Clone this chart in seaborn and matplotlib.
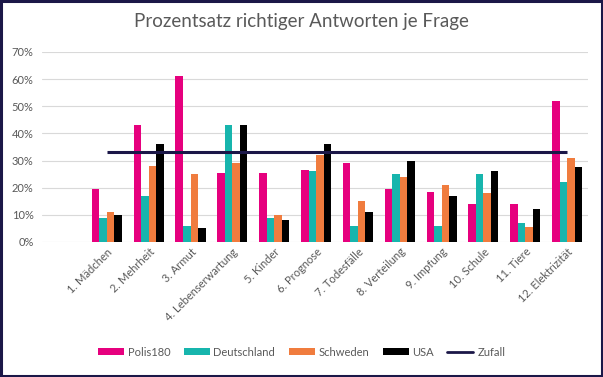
import matplotlib
matplotlib.use("Agg")
import matplotlib.pyplot as plt
import seaborn as sns
import pandas as pd
from matplotlib.patches import Rectangle, Patch
from matplotlib.lines import Line2D
from matplotlib.ticker import FuncFormatter

categories = ["1. Mädchen", "2. Mehrheit", "3. Armut", "4. Lebenserwartung", "5. Kinder",
              "6. Prognose", "7. Todesfälle", "8. Verteilung", "9. Impfung", "10. Schule",
              "11. Tiere", "12. Elektrizität"]
polis180 = [19.5, 43, 61, 25.5, 25.5, 26.5, 29, 19.5, 18.5, 14, 14, 52]
deutschland = [9, 17, 6, 43, 9, 26, 6, 25, 6, 25, 7, 22]
schweden = [11, 28, 25, 29, 10, 32, 15, 24, 21, 18, 5.5, 31]
usa = [10, 36, 5, 43, 8, 36, 11, 30, 17, 26, 12, 27.5]
zufall = [33.3, 33.3, 33.3, 33.3, 33.3, 33.3, 33.3, 33.3, 33.3, 33.3, 33.3, 33.3]
series_names = ["Polis180", "Deutschland", "Schweden", "USA"]
yticks = [0, 10, 20, 30, 40, 50, 60, 70]

colors = ["#E6007E", "#17B5AD", "#F07C3E", "#000000"]
line_color = "#1B1748"
text_color = "#595959"

rows = []
for name, vals in zip(series_names, [polis180, deutschland, schweden, usa]):
    for c, v in zip(categories, vals):
        rows.append({"Frage": c, "Serie": name, "Wert": v})
df = pd.DataFrame(rows)

sns.set_theme(style="white")
plt.rcParams["font.family"] = ["Lato", "DejaVu Sans"]

fig = plt.figure(figsize=(6.03, 3.77), dpi=100)
ax = fig.add_axes([42 / 603, 1 - 242 / 377, (588 - 42) / 603, (242 - 52) / 377])

sns.barplot(data=df, x="Frage", y="Wert", hue="Serie", order=categories,
            hue_order=series_names, palette=colors, width=0.72, saturation=1,
            ax=ax, legend=False)
for p in ax.patches:
    p.set_edgecolor("none")
ax.plot(range(len(categories)), zufall, color=line_color, lw=2.2, solid_capstyle="butt")

ax.set_xlim(-1.55, 11.5)
ax.set_ylim(0, 70)
ax.set_yticks(yticks)
ax.yaxis.set_major_formatter(FuncFormatter(lambda v, p: f"{int(v)}%"))
ax.grid(axis="y", color="#D9D9D9", lw=0.8)
ax.set_axisbelow(True)
for s in ax.spines.values():
    s.set_visible(False)
ax.set_xlabel("")
ax.set_ylabel("")
ax.tick_params(axis="y", labelsize=8, labelcolor=text_color, length=0, pad=6)
ax.tick_params(axis="x", labelsize=8, labelcolor=text_color, length=0, pad=3)
for lab in ax.get_xticklabels():
    lab.set_rotation(45)
    lab.set_ha("right")
    lab.set_rotation_mode("anchor")

fig.text(0.5, 1 - 22 / 377, "Prozentsatz richtiger Antworten je Frage", ha="center", va="center",
         fontsize=13.5, color=text_color)

handles = [Patch(facecolor=c, edgecolor="none") for c in colors]
handles.append(Line2D([0], [0], color=line_color, lw=2))
labels = series_names + ["Zufall"]
leg = fig.legend(handles, labels, loc="center", bbox_to_anchor=(0.5, 1 - 352 / 377), ncol=5,
                 frameon=False, fontsize=8, handlelength=2.34, handleheight=0.6,
                 handletextpad=0.35, columnspacing=1.2, labelcolor=text_color)

fig.patches.append(Rectangle((0.0015, 0.002), 0.997, 0.995, transform=fig.transFigure,
                             fill=False, edgecolor=line_color, lw=2.2))
fig.savefig("out.png", dpi=100, facecolor="white")
